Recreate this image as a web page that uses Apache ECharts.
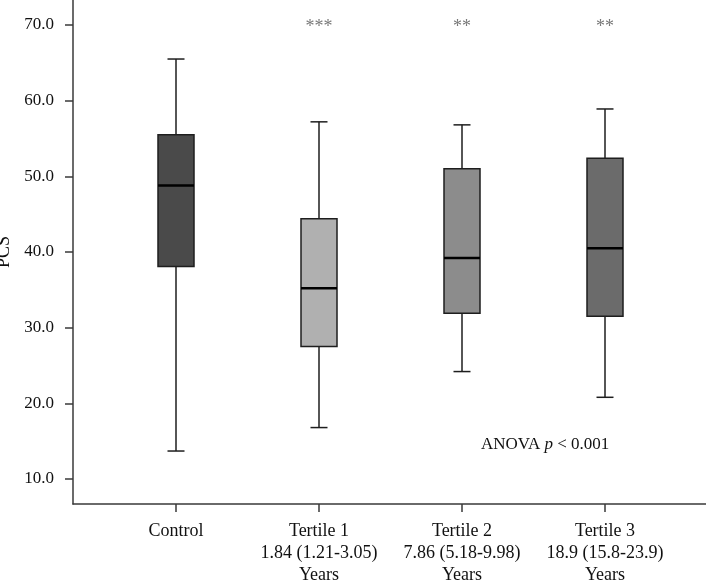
<!DOCTYPE html>
<html>
<head>
<meta charset="utf-8">
<script src="https://cdn.jsdelivr.net/npm/echarts@6/dist/echarts.min.js"></script>
<style>
  html, body { margin: 0; padding: 0; background: #fff; }
  #echarts-main { width: 706px; height: 580px; }
</style>
</head>
<body>
<div id="echarts-main"></div>
<script>
var categories = [
  'Control',
  'Tertile 1\n1.84 (1.21-3.05)\nYears',
  'Tertile 2\n7.86 (5.18-9.98)\nYears',
  'Tertile 3\n18.9 (15.8-23.9)\nYears'
];
var whiskerLow  = [13.7, 16.8, 24.2, 20.8];
var q1          = [38.1, 27.5, 31.9, 31.5];
var medians     = [48.8, 35.2, 39.2, 40.5];
var q3          = [55.5, 44.4, 51.0, 52.4];
var whiskerHigh = [65.5, 57.2, 56.8, 58.9];
var significance = ['', '***', '**', '**'];
var starLevel = 69.7;
var yTicks = [10, 20, 30, 40, 50, 60, 70];
var yMin = 6.7, yMax = 73.3;

var boxColors = ['#4a4a4a', '#b0b0b0', '#8c8c8c', '#6b6b6b'];
var axisColor = '#3a3a3a';
var font = 'Liberation Serif';

var myChart = echarts.init(document.getElementById('echarts-main'));

var boxData = categories.map(function (c, i) {
  return [i, whiskerLow[i], q1[i], medians[i], q3[i], whiskerHigh[i]];
});
var starData = significance.map(function (s, i) { return [i, starLevel]; });

function renderBox(params, api) {
  var idx = api.value(0);
  var pLow = api.coord([idx, api.value(1)]);
  var pQ1 = api.coord([idx, api.value(2)]);
  var pMed = api.coord([idx, api.value(3)]);
  var pQ3 = api.coord([idx, api.value(4)]);
  var pHigh = api.coord([idx, api.value(5)]);
  var x = pMed[0];
  var halfBox = 18, halfCap = 8.5;
  var line = { stroke: '#1e1e1e', lineWidth: 1.5 };
  return {
    type: 'group',
    children: [
      { type: 'line', shape: { x1: x, y1: pQ3[1], x2: x, y2: pHigh[1] }, style: line },
      { type: 'line', shape: { x1: x - halfCap, y1: pHigh[1], x2: x + halfCap, y2: pHigh[1] }, style: line },
      { type: 'line', shape: { x1: x, y1: pQ1[1], x2: x, y2: pLow[1] }, style: line },
      { type: 'line', shape: { x1: x - halfCap, y1: pLow[1], x2: x + halfCap, y2: pLow[1] }, style: line },
      {
        type: 'rect',
        shape: { x: x - halfBox, y: pQ3[1], width: halfBox * 2, height: pQ1[1] - pQ3[1] },
        style: { fill: boxColors[idx], stroke: '#1e1e1e', lineWidth: 1.5 }
      },
      { type: 'line', shape: { x1: x - halfBox, y1: pMed[1], x2: x + halfBox, y2: pMed[1] },
        style: { stroke: '#000', lineWidth: 2.5 } }
    ]
  };
}

var option = {
  backgroundColor: '#fff',
  animation: false,
  textStyle: { fontFamily: font },
  grid: [
    { left: 104.5, right: 29.5, top: 0, bottom: 76, outerBoundsMode: 'none' },
    { left: 73, right: 0, top: 0, bottom: 76, outerBoundsMode: 'none' }
  ],
  xAxis: [
    {
      type: 'category',
      gridIndex: 0,
      data: categories,
      axisLine: { show: false },
      axisTick: { show: true, alignWithLabel: true, length: 8, lineStyle: { color: axisColor, width: 1.5 } },
      axisLabel: { interval: 0, margin: 16, fontSize: 18, lineHeight: 22, color: '#111', fontFamily: font },
      splitLine: { show: false }
    },
    {
      type: 'value',
      gridIndex: 1,
      min: 0,
      max: 1,
      axisLine: { show: true, lineStyle: { color: axisColor, width: 1.5 } },
      axisTick: { show: false },
      axisLabel: { show: false },
      splitLine: { show: false }
    }
  ],
  yAxis: [
    {
      type: 'value',
      gridIndex: 0,
      min: yMin,
      max: yMax,
      show: false,
      splitLine: { show: false }
    },
    {
      type: 'value',
      gridIndex: 1,
      min: yMin,
      max: yMax,
      name: 'PCS',
      nameLocation: 'middle',
      nameGap: 58,
      nameTextStyle: { fontSize: 18, color: '#111', fontFamily: font },
      axisLine: { show: true, lineStyle: { color: axisColor, width: 1.5 } },
      axisTick: { show: true, length: 8, customValues: yTicks, lineStyle: { color: axisColor, width: 1.5 } },
      axisLabel: {
        margin: 19,
        fontSize: 17,
        color: '#111',
        fontFamily: font,
        customValues: yTicks,
        formatter: function (v) { return v.toFixed(1); }
      },
      splitLine: { show: false }
    }
  ],
  series: [
    {
      type: 'custom',
      xAxisIndex: 0,
      yAxisIndex: 0,
      renderItem: renderBox,
      data: boxData,
      z: 3
    },
    {
      type: 'scatter',
      xAxisIndex: 0,
      yAxisIndex: 0,
      symbolSize: 0,
      data: starData,
      label: {
        show: true,
        position: 'inside',
        fontSize: 18,
        color: '#555',
        fontFamily: font,
        formatter: function (p) { return significance[p.dataIndex]; }
      }
    }
  ],
  graphic: [
    {
      type: 'text',
      left: 481,
      top: 436,
      style: {
        text: '{n|ANOVA }{i|p}{n| < 0.001}',
        rich: {
          n: { fontSize: 17, fontFamily: font, fill: '#111' },
          i: { fontSize: 17, fontFamily: font, fontStyle: 'italic', fill: '#111' }
        }
      }
    }
  ]
};

myChart.setOption(option);
</script>
</body>
</html>
